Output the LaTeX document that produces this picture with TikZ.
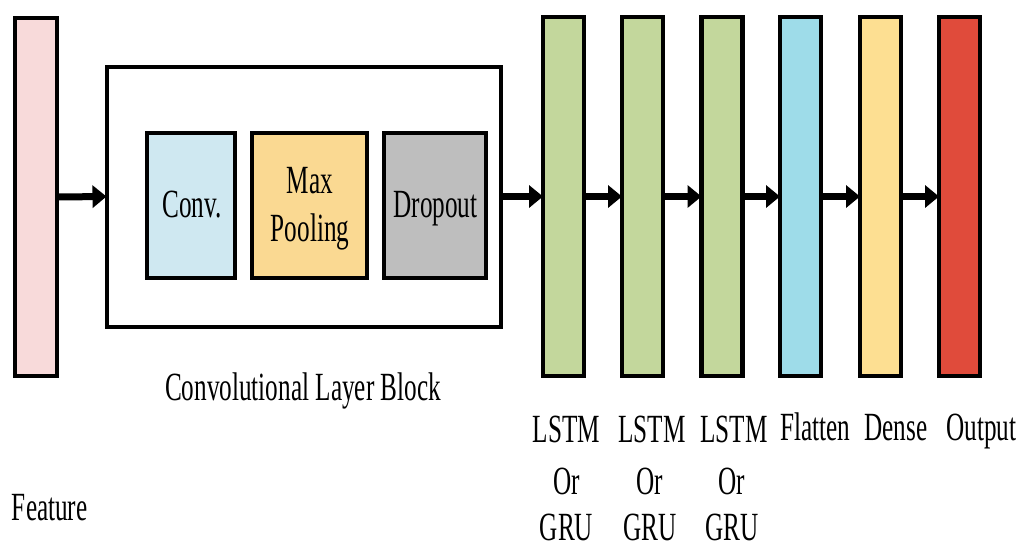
\documentclass[tikz,border=0pt]{standalone}
\usepackage{fontspec}
\setmainfont{Liberation Serif}
\newfontfamily\tnr{Liberation Serif}
\usetikzlibrary{arrows.meta}
\definecolor{featpink}{HTML}{F8DADA}
\definecolor{convblue}{HTML}{CFE8F1}
\definecolor{poolyellow}{HTML}{FAD992}
\definecolor{dropgray}{HTML}{BEBEBE}
\definecolor{lstmgreen}{HTML}{C3D79C}
\definecolor{flatcyan}{HTML}{9EDCE9}
\definecolor{denseyellow}{HTML}{FDDF92}
\definecolor{outred}{HTML}{E04B3B}
\tikzset{
  bar/.style={draw=black, line width=4.5pt, inner sep=0pt, outer sep=0pt, minimum width=41pt, minimum height=359pt},
  inbox/.style={draw=black, line width=4.5pt, inner sep=0pt, outer sep=0pt, minimum height=145pt},
  lbl/.style={inner sep=0pt, outer sep=0pt, anchor=base, xscale=0.63, font=\tnr\fontsize{40}{48}\selectfont},
  arr/.style={line width=7pt, -{Triangle[length=14pt,width=22pt]}},
}
\begin{document}
\begin{tikzpicture}[x=1pt,y=-1pt]
\useasboundingbox[fill=white] (0,0) rectangle (1024,547);
% feature
\node[bar, fill=featpink, minimum width=42pt, minimum height=358pt] (feat) at (36,197) {};
% conv block
\node[draw=black, line width=4pt, inner sep=0pt, outer sep=0pt, minimum width=394pt, minimum height=260pt] (block) at (303.5,196.5) {};
\node[inbox, fill=convblue, minimum width=88pt] (conv) at (191,205.5) {};
\node[inbox, fill=poolyellow, minimum width=115pt] (pool) at (309.5,205.5) {};
\node[inbox, fill=dropgray, minimum width=102pt] (drop) at (435,205.5) {};
% bars
\node[bar, fill=lstmgreen] (l1) at (563.5,196.5) {};
\node[bar, fill=lstmgreen] (l2) at (642.5,196.5) {};
\node[bar, fill=lstmgreen] (l3) at (722,196.5) {};
\node[bar, fill=flatcyan] (fl) at (800.5,196.5) {};
\node[bar, fill=denseyellow] (de) at (880.5,196.5) {};
\node[bar, fill=outred] (ou) at (959.5,196.5) {};
% arrows
\draw[arr] (feat.east) -- (block.west);
\draw[arr] (block.east) -- (l1.west);
\draw[arr] (l1.east) -- (l2.west);
\draw[arr] (l2.east) -- (l3.west);
\draw[arr] (l3.east) -- (fl.west);
\draw[arr] (fl.east) -- (de.west);
\draw[arr] (de.east) -- (ou.west);
% inner texts
\node[lbl] (tconv) at (192,217) {Conv.};
\node[lbl] (tmax) at (310,193) {Max};
\node[lbl] (tpool) at (310,241) {Pooling};
\node[lbl] (tdrop) at (435.5,217) {Dropout};
% labels
\node[lbl] (tblock) at (303,400) {Convolutional Layer Block};
\node[lbl, anchor=base west] (tfeat) at (12,520) {Feature};
\node[lbl] (a1) at (566.5,442) {LSTM};
\node[lbl] (b1) at (566.5,494) {Or};
\node[lbl] (c1) at (566.5,540) {GRU};
\node[lbl] (a2) at (652,442) {LSTM};
\node[lbl] (b2) at (650,494) {Or};
\node[lbl] (c2) at (650,540) {GRU};
\node[lbl] (a3) at (734,442) {LSTM};
\node[lbl] (b3) at (732,494) {Or};
\node[lbl] (c3) at (732,540) {GRU};
\node[lbl] (tfl) at (815.5,440) {Flatten};
\node[lbl] (tde) at (896,440) {Dense};
\node[lbl] (tou) at (981.5,440) {Output};
\end{tikzpicture}
\end{document}
